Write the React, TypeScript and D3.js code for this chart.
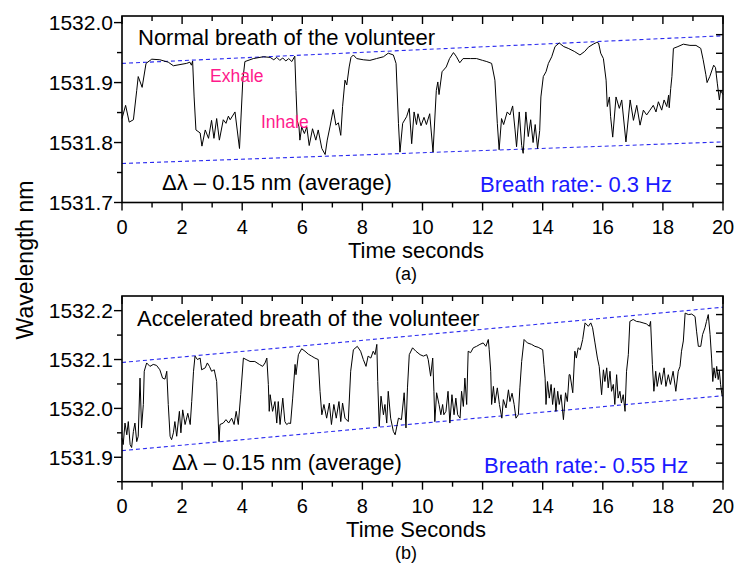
import React from 'react'
import * as d3 from 'd3'

const [WIDTH, HEIGHT] = [736, 571]
const FONT = '"Liberation Sans", Arial, Helvetica, sans-serif'
const PLOT_LEFT = 122
const PLOT_RIGHT = 723

// time axis (seconds)
const timeDomain = [0, 20]
const timeTicks = [0, 2, 4, 6, 8, 10, 12, 14, 16, 18, 20]
const timeMinorTicks = [1, 3, 5, 7, 9, 11, 13, 15, 17, 19]
const rightTickCount = 10

// (a) normal breath
const normalYDomain = [1531.7, 1532.011]
const normalYTicks = [1531.7, 1531.8, 1531.9, 1532.0]
const normalYMinorTicks = [1531.75, 1531.85, 1531.95]
const normalUpper: [number, number][] = [[0, 1531.932], [20, 1531.978]]
const normalLower: [number, number][] = [[0, 1531.765], [20, 1531.801]]
const normalBreath: [number, number][] = [
  [0.00, 1531.840], [0.12, 1531.862], [0.24, 1531.834], [0.38, 1531.838], [0.49, 1531.887],
  [0.54, 1531.910], [0.67, 1531.892], [0.80, 1531.932], [0.99, 1531.939], [1.26, 1531.938],
  [1.54, 1531.934], [1.71, 1531.928], [1.93, 1531.930], [2.15, 1531.932], [2.26, 1531.934],
  [2.31, 1531.929], [2.35, 1531.936], [2.40, 1531.876], [2.46, 1531.821], [2.60, 1531.816],
  [2.66, 1531.794], [2.77, 1531.821], [2.88, 1531.807], [2.98, 1531.837], [3.06, 1531.807],
  [3.15, 1531.840], [3.24, 1531.804], [3.37, 1531.838], [3.46, 1531.832], [3.54, 1531.844],
  [3.60, 1531.838], [3.76, 1531.851], [3.91, 1531.790], [4.02, 1531.904], [4.09, 1531.935],
  [4.37, 1531.940], [4.70, 1531.943], [4.93, 1531.942], [5.05, 1531.938], [5.15, 1531.942],
  [5.25, 1531.937], [5.35, 1531.941], [5.45, 1531.936], [5.55, 1531.940], [5.65, 1531.935],
  [5.75, 1531.944], [5.79, 1531.887], [5.83, 1531.837], [5.89, 1531.826], [5.92, 1531.804],
  [5.98, 1531.826], [6.07, 1531.815], [6.15, 1531.826], [6.23, 1531.795], [6.34, 1531.823],
  [6.45, 1531.804], [6.53, 1531.821], [6.65, 1531.790], [6.76, 1531.780], [6.83, 1531.804],
  [6.92, 1531.826], [7.03, 1531.855], [7.12, 1531.829], [7.20, 1531.833], [7.28, 1531.812],
  [7.34, 1531.860], [7.42, 1531.904], [7.48, 1531.896], [7.56, 1531.926], [7.62, 1531.942],
  [7.70, 1531.946], [7.81, 1531.940], [8.03, 1531.938], [8.25, 1531.937], [8.47, 1531.940],
  [8.70, 1531.943], [8.86, 1531.949], [9.03, 1531.946], [9.12, 1531.932], [9.20, 1531.832],
  [9.25, 1531.784], [9.34, 1531.832], [9.47, 1531.843], [9.56, 1531.857], [9.64, 1531.798],
  [9.72, 1531.851], [9.80, 1531.830], [9.85, 1531.848], [9.95, 1531.828], [10.05, 1531.842],
  [10.13, 1531.830], [10.24, 1531.848], [10.35, 1531.784], [10.46, 1531.887], [10.51, 1531.901],
  [10.55, 1531.880], [10.65, 1531.918], [10.79, 1531.926], [10.90, 1531.940], [11.03, 1531.950],
  [11.12, 1531.944], [11.24, 1531.933], [11.35, 1531.940], [11.60, 1531.940], [11.80, 1531.940],
  [12.00, 1531.937], [12.14, 1531.935], [12.30, 1531.932], [12.41, 1531.904], [12.49, 1531.832],
  [12.55, 1531.788], [12.63, 1531.840], [12.70, 1531.830], [12.82, 1531.851], [12.91, 1531.846],
  [13.00, 1531.861], [13.08, 1531.821], [13.13, 1531.793], [13.22, 1531.851], [13.30, 1531.795],
  [13.35, 1531.782], [13.44, 1531.851], [13.52, 1531.810], [13.60, 1531.838], [13.68, 1531.800],
  [13.75, 1531.830], [13.83, 1531.790], [13.90, 1531.820], [13.94, 1531.876], [14.02, 1531.910],
  [14.11, 1531.918], [14.19, 1531.932], [14.30, 1531.943], [14.41, 1531.960], [14.55, 1531.966],
  [14.70, 1531.960], [14.85, 1531.957], [15.05, 1531.952], [15.24, 1531.946], [15.40, 1531.952],
  [15.52, 1531.959], [15.68, 1531.964], [15.80, 1531.967], [15.86, 1531.966], [15.93, 1531.949],
  [16.02, 1531.940], [16.11, 1531.904], [16.15, 1531.860], [16.22, 1531.876], [16.26, 1531.843],
  [16.33, 1531.809], [16.44, 1531.876], [16.55, 1531.857], [16.63, 1531.871], [16.77, 1531.801],
  [16.91, 1531.871], [17.02, 1531.837], [17.13, 1531.862], [17.24, 1531.829], [17.35, 1531.854],
  [17.46, 1531.846], [17.57, 1531.854], [17.68, 1531.862], [17.77, 1531.851], [17.85, 1531.868],
  [17.96, 1531.854], [18.04, 1531.871], [18.13, 1531.860], [18.19, 1531.879], [18.21, 1531.858],
  [18.26, 1531.890], [18.30, 1531.910], [18.35, 1531.957], [18.50, 1531.960], [18.68, 1531.964],
  [18.90, 1531.962], [19.10, 1531.962], [19.26, 1531.957], [19.34, 1531.938], [19.43, 1531.913],
  [19.47, 1531.900], [19.56, 1531.910], [19.69, 1531.929], [19.75, 1531.925], [19.81, 1531.899],
  [19.88, 1531.871], [19.92, 1531.887], [20.00, 1531.880],
]

// (b) accelerated breath
const accelYDomain = [1531.85, 1532.23]
const accelYTicks = [1531.9, 1532.0, 1532.1, 1532.2]
const accelYMinorTicks = [1531.85, 1531.95, 1532.05, 1532.15]
const accelUpper: [number, number][] = [[0, 1532.094], [20, 1532.207]]
const accelLower: [number, number][] = [[0, 1531.9135], [20, 1532.026]]
const acceleratedBreath: [number, number][] = [
  [0.00, 1531.939], [0.04, 1531.926], [0.10, 1531.970], [0.16, 1531.946], [0.21, 1531.973],
  [0.27, 1531.926], [0.32, 1531.920], [0.38, 1531.953], [0.43, 1531.970], [0.49, 1531.932],
  [0.54, 1531.943], [0.60, 1532.062], [0.65, 1531.960], [0.71, 1532.008], [0.74, 1532.076],
  [0.82, 1532.093], [0.93, 1532.086], [1.04, 1532.090], [1.15, 1532.088], [1.26, 1532.079],
  [1.35, 1532.062], [1.43, 1532.060], [1.49, 1532.076], [1.54, 1532.008], [1.60, 1531.943],
  [1.65, 1531.936], [1.71, 1531.950], [1.76, 1531.973], [1.82, 1531.943], [1.91, 1531.994],
  [1.96, 1531.950], [2.02, 1531.997], [2.10, 1531.967], [2.19, 1531.990], [2.27, 1531.967],
  [2.32, 1532.014], [2.38, 1532.076], [2.43, 1532.107], [2.51, 1532.100], [2.60, 1532.103],
  [2.65, 1532.079], [2.77, 1532.083], [2.84, 1532.093], [2.91, 1532.086], [2.98, 1532.076],
  [3.07, 1532.079], [3.15, 1532.055], [3.23, 1531.932], [3.26, 1531.967], [3.37, 1531.970],
  [3.46, 1531.977], [3.55, 1531.970], [3.65, 1531.980], [3.73, 1531.967], [3.80, 1531.994],
  [3.87, 1531.967], [3.95, 1532.028], [4.04, 1532.103], [4.13, 1532.100], [4.26, 1532.096],
  [4.42, 1532.096], [4.57, 1532.090], [4.68, 1532.086], [4.76, 1532.093], [4.82, 1532.103],
  [4.87, 1532.049], [4.90, 1531.994], [4.93, 1532.028], [5.01, 1531.994], [5.09, 1532.014],
  [5.15, 1531.970], [5.20, 1532.014], [5.26, 1531.967], [5.35, 1532.021], [5.42, 1531.973],
  [5.48, 1531.967], [5.55, 1531.970], [5.61, 1531.969], [5.68, 1532.021], [5.76, 1532.090],
  [5.79, 1532.069], [5.87, 1532.110], [5.98, 1532.122], [6.09, 1532.117], [6.20, 1532.111],
  [6.31, 1532.107], [6.42, 1532.103], [6.53, 1532.100], [6.59, 1532.035], [6.65, 1531.987],
  [6.72, 1532.008], [6.81, 1531.980], [6.90, 1532.011], [6.97, 1531.967], [7.05, 1532.008],
  [7.13, 1531.980], [7.22, 1532.014], [7.28, 1531.973], [7.34, 1532.011], [7.42, 1531.980],
  [7.53, 1531.973], [7.61, 1532.076], [7.70, 1532.120], [7.83, 1532.127], [7.94, 1532.117],
  [8.03, 1532.100], [8.12, 1532.086], [8.19, 1532.107], [8.28, 1532.103], [8.36, 1532.117],
  [8.42, 1532.110], [8.48, 1532.131], [8.51, 1532.055], [8.56, 1531.963], [8.62, 1532.025],
  [8.70, 1531.987], [8.75, 1532.008], [8.81, 1531.970], [8.86, 1532.035], [8.94, 1531.980],
  [9.03, 1531.953], [9.09, 1531.946], [9.20, 1531.980], [9.30, 1531.977], [9.39, 1532.032],
  [9.45, 1531.960], [9.50, 1532.042], [9.56, 1532.110], [9.67, 1532.124], [9.78, 1532.117],
  [9.92, 1532.110], [10.03, 1532.107], [10.14, 1532.110], [10.19, 1532.100], [10.27, 1532.066],
  [10.34, 1532.103], [10.38, 1532.035], [10.41, 1531.973], [10.47, 1532.032], [10.55, 1532.008],
  [10.61, 1531.987], [10.67, 1532.008], [10.71, 1531.987], [10.78, 1531.994], [10.85, 1532.035],
  [10.91, 1531.970], [10.98, 1532.028], [11.05, 1531.987], [11.11, 1532.021], [11.17, 1531.987],
  [11.25, 1531.980], [11.30, 1532.035], [11.36, 1532.004], [11.41, 1532.062], [11.47, 1532.008],
  [11.52, 1532.117], [11.60, 1532.114], [11.69, 1532.124], [11.80, 1532.127], [11.91, 1532.131],
  [12.02, 1532.134], [12.11, 1532.127], [12.19, 1532.141], [12.22, 1532.120], [12.27, 1532.076],
  [12.30, 1532.008], [12.36, 1532.045], [12.41, 1532.011], [12.49, 1532.042], [12.56, 1532.008],
  [12.64, 1531.980], [12.69, 1532.018], [12.78, 1532.001], [12.86, 1532.038], [12.91, 1532.014],
  [12.98, 1532.031], [13.05, 1532.008], [13.11, 1531.980], [13.19, 1531.987], [13.24, 1532.042],
  [13.30, 1532.096], [13.38, 1532.141], [13.49, 1532.134], [13.63, 1532.131], [13.74, 1532.127],
  [13.85, 1532.125], [14.00, 1532.120], [14.04, 1532.090], [14.08, 1532.062], [14.11, 1532.008],
  [14.16, 1532.055], [14.22, 1532.021], [14.28, 1532.049], [14.33, 1532.008], [14.39, 1532.042],
  [14.44, 1531.994], [14.50, 1532.035], [14.55, 1532.008], [14.61, 1532.028], [14.69, 1531.977],
  [14.76, 1532.032], [14.82, 1532.014], [14.88, 1532.069], [14.91, 1532.069], [15.00, 1532.032],
  [15.07, 1532.117], [15.12, 1532.103], [15.18, 1532.124], [15.25, 1532.120], [15.33, 1532.141],
  [15.41, 1532.175], [15.52, 1532.168], [15.60, 1532.175], [15.66, 1532.165], [15.74, 1532.134],
  [15.82, 1532.103], [15.88, 1532.086], [15.96, 1532.028], [16.02, 1532.079], [16.07, 1532.055],
  [16.13, 1532.083], [16.18, 1532.042], [16.24, 1532.076], [16.29, 1532.035], [16.35, 1532.049],
  [16.40, 1532.008], [16.46, 1532.069], [16.51, 1532.021], [16.57, 1532.035], [16.62, 1532.011],
  [16.68, 1532.028], [16.74, 1531.994], [16.79, 1532.076], [16.85, 1532.110], [16.90, 1532.178],
  [17.01, 1532.182], [17.12, 1532.178], [17.23, 1532.177], [17.34, 1532.175], [17.45, 1532.173],
  [17.55, 1532.168], [17.59, 1532.178], [17.65, 1532.090], [17.70, 1532.035], [17.76, 1532.076],
  [17.81, 1532.045], [17.89, 1532.073], [17.95, 1532.049], [18.04, 1532.083], [18.10, 1532.045],
  [18.18, 1532.069], [18.25, 1532.049], [18.34, 1532.076], [18.43, 1532.035], [18.51, 1532.076],
  [18.57, 1532.086], [18.62, 1532.117], [18.68, 1532.138], [18.74, 1532.195], [18.85, 1532.192],
  [18.96, 1532.193], [19.07, 1532.188], [19.12, 1532.158], [19.18, 1532.127], [19.26, 1532.127],
  [19.32, 1532.151], [19.40, 1532.165], [19.45, 1532.178], [19.51, 1532.192], [19.57, 1532.151],
  [19.62, 1532.103], [19.66, 1532.055], [19.70, 1532.083], [19.75, 1532.062], [19.79, 1532.086],
  [19.84, 1532.059], [19.88, 1532.076], [19.92, 1532.049], [19.97, 1532.025],
]

type Note = { text: string, x: number, y: number, size: number, color: string }

function Panel({ top, bottom, yDomain, yTicks, yMinorTicks, data, upper, lower, notes, xLabel, tag }: {
  top: number, bottom: number, yDomain: number[], yTicks: number[], yMinorTicks: number[],
  data: [number, number][], upper: [number, number][], lower: [number, number][],
  notes: Note[], xLabel: string, tag: string,
}) {
  const x = d3.scaleLinear().domain(timeDomain).range([PLOT_LEFT, PLOT_RIGHT])
  const y = d3.scaleLinear().domain(yDomain).range([bottom, top])
  const yRight = d3.scaleLinear().domain([0, rightTickCount]).range([bottom, top])
  const line = d3.line<[number, number]>().x(d => x(d[0])).y(d => y(d[1]))
  const fmt = d3.format('.1f')

  return (
    <g>
      <clipPath id={`clip-${tag}`}>
        <rect x={PLOT_LEFT} y={top} width={PLOT_RIGHT - PLOT_LEFT} height={bottom - top} />
      </clipPath>
      <g clipPath={`url(#clip-${tag})`}>
        <path d={line(upper) ?? ''} fill="none" stroke="#2a2af0" strokeWidth={1.1} strokeDasharray="4,3" />
        <path d={line(lower) ?? ''} fill="none" stroke="#2a2af0" strokeWidth={1.1} strokeDasharray="4,3" />
        <path d={line(data) ?? ''} fill="none" stroke="#000" strokeWidth={1} strokeLinejoin="round" />
      </g>

      {/* frame */}
      <rect x={PLOT_LEFT} y={top} width={PLOT_RIGHT - PLOT_LEFT} height={bottom - top}
        fill="none" stroke="#000" strokeWidth={1.6} />

      {/* bottom ticks out, top ticks in */}
      {timeTicks.map(t => (
        <g key={`xt${t}`}>
          <line x1={x(t)} x2={x(t)} y1={bottom} y2={bottom + 8} stroke="#000" strokeWidth={1.4} />
          <line x1={x(t)} x2={x(t)} y1={top} y2={top + 8} stroke="#000" strokeWidth={1.4} />
          <text x={x(t)} y={bottom + 31} textAnchor="middle" fontSize={20} fontFamily={FONT}>{t}</text>
        </g>
      ))}
      {timeMinorTicks.map(t => (
        <g key={`xm${t}`}>
          <line x1={x(t)} x2={x(t)} y1={bottom} y2={bottom + 5} stroke="#000" strokeWidth={1.4} />
          <line x1={x(t)} x2={x(t)} y1={top} y2={top + 5} stroke="#000" strokeWidth={1.4} />
        </g>
      ))}

      {/* left ticks out */}
      {yTicks.map(v => (
        <g key={`yt${v}`}>
          <line x1={PLOT_LEFT - 8} x2={PLOT_LEFT} y1={y(v)} y2={y(v)} stroke="#000" strokeWidth={1.4} />
          <text x={PLOT_LEFT - 9} y={y(v)} dy="0.36em" textAnchor="end" fontSize={21} fontFamily={FONT}>{fmt(v)}</text>
        </g>
      ))}
      {yMinorTicks.map(v => (
        <line key={`ym${v}`} x1={PLOT_LEFT - 5} x2={PLOT_LEFT} y1={y(v)} y2={y(v)} stroke="#000" strokeWidth={1.4} />
      ))}

      {/* right ticks in */}
      {d3.range(1, rightTickCount).map(i => (
        <line key={`yr${i}`} x1={PLOT_RIGHT - 7} x2={PLOT_RIGHT} y1={yRight(i)} y2={yRight(i)} stroke="#000" strokeWidth={1.4} />
      ))}

      {notes.map(n => (
        <text key={n.text} x={n.x} y={n.y} fontSize={n.size} fill={n.color} fontFamily={FONT}>{n.text}</text>
      ))}

      <text x={416} y={bottom + 55} textAnchor="middle" fontSize={22} fontFamily={FONT}>{xLabel}</text>
      <text x={406} y={bottom + 77} textAnchor="middle" fontSize={18} fontFamily={FONT}>{tag}</text>
    </g>
  )
}

export default function App() {
  return (
    <svg width={WIDTH} height={HEIGHT} style={{ position: 'absolute', left: 0, top: 0, background: '#fff' }}>
      <Panel top={16} bottom={202.5} yDomain={normalYDomain} yTicks={normalYTicks} yMinorTicks={normalYMinorTicks}
        data={normalBreath} upper={normalUpper} lower={normalLower} xLabel="Time seconds" tag="(a)"
        notes={[
          { text: 'Normal breath of the volunteer', x: 138, y: 45, size: 22, color: '#000' },
          { text: 'Exhale', x: 210, y: 81.5, size: 17.5, color: '#ff1a8c' },
          { text: 'Inhale', x: 261, y: 128, size: 17.5, color: '#ff1a8c' },
          { text: 'Δλ – 0.15 nm (average)', x: 162, y: 190, size: 22, color: '#000' },
          { text: 'Breath rate:- 0.3 Hz', x: 480, y: 191.5, size: 22, color: '#1a1aff' },
        ]} />
      <Panel top={296} bottom={481.7} yDomain={accelYDomain} yTicks={accelYTicks} yMinorTicks={accelYMinorTicks}
        data={acceleratedBreath} upper={accelUpper} lower={accelLower} xLabel="Time Seconds" tag="(b)"
        notes={[
          { text: 'Accelerated breath of the volunteer', x: 137, y: 325.5, size: 22, color: '#000' },
          { text: 'Δλ – 0.15 nm (average)', x: 172, y: 470, size: 22, color: '#000' },
          { text: 'Breath rate:- 0.55 Hz', x: 484, y: 472.5, size: 22, color: '#1a1aff' },
        ]} />
      <text transform="translate(33, 260) rotate(-90)" textAnchor="middle" fontSize={23} fontFamily={FONT}>
        Wavelength nm
      </text>
    </svg>
  )
}
